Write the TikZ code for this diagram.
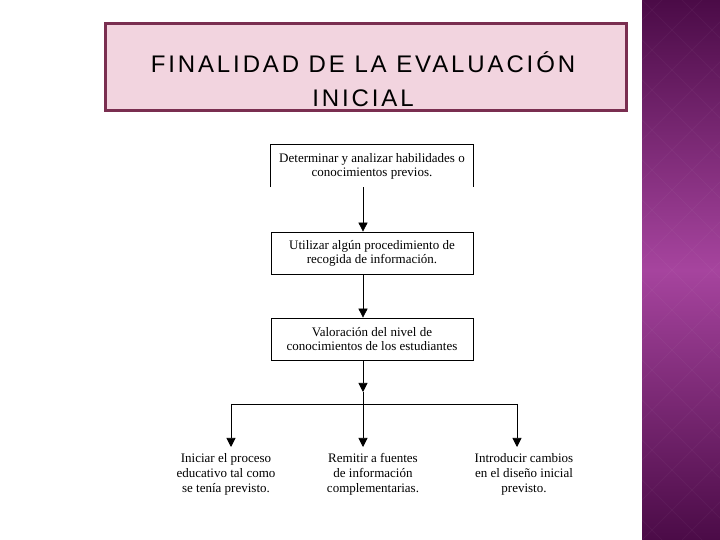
\documentclass[tikz,border=0pt]{standalone}
\usepackage{fontspec}
\setmainfont{Liberation Serif}
\newfontfamily\titlefont[LetterSpace=12]{Liberation Sans}
\usetikzlibrary{positioning,arrows.meta,calc}

\definecolor{titlefill}{HTML}{F2D4DF}
\definecolor{titleline}{HTML}{7A2E50}
\definecolor{bandtop}{HTML}{4B0B47}
\definecolor{bandmid}{HTML}{A6449E}

\tikzset{
    stepbox/.style={minimum width=202pt, minimum height=42pt, inner sep=2pt,
        align=center, font=\fontsize{13}{14}\selectfont},
    result/.style={anchor=north, align=center, inner sep=0pt,
        font=\fontsize{13}{15}\selectfont},
    flow/.style={-{Triangle[length=9pt,width=9pt]}, line width=0.7pt},
}

\begin{document}
\begin{tikzpicture}[x=1pt,y=1pt]
    \useasboundingbox (0,0) rectangle (720,540);
    \fill[white] (0,0) rectangle (720,540);
    % purple band on the right
    \shade[top color=bandtop, bottom color=bandtop, middle color=bandmid]
        (642,0) rectangle (720,540);
    \begin{scope}
        \clip (642,0) rectangle (720,540);
        \foreach \k in {-20,...,20}{
            \draw[white, opacity=0.035, line width=0.8pt] (642+40*\k,0) -- ++(540,540);
            \draw[white, opacity=0.035, line width=0.8pt] (642+40*\k,540) -- ++(540,-540);
        }
    \end{scope}

    % title
    \node[draw=titleline, line width=3pt, fill=titlefill,
        minimum width=521pt, minimum height=87pt] (title) at (366,473) {};
    \node[align=center, inner sep=0pt, font=\titlefont\fontsize{24}{34}\selectfont]
        (titletxt) at ([xshift=-3pt,yshift=-12pt]title.center) {FINALIDAD DE LA EVALUACIÓN\\INICIAL};

    % steps
    \node[stepbox] (det) at (372,374) {Determinar y analizar habilidades o\\conocimientos previos.};
    \draw[line width=0.7pt] (det.south west) -- (det.north west) -- (det.north east) -- (det.south east);
    \node[stepbox, draw, line width=0.7pt] (uti) at (372,287) {Utilizar algún procedimiento de\\recogida de información.};
    \node[stepbox, draw, line width=0.7pt] (val) at (372,201) {Valoración del nivel de\\conocimientos de los estudiantes};

    \coordinate (axis) at (363,0);
    \draw[flow] (det.south -| axis) -- (uti.north -| axis);
    \draw[flow] (uti.south -| axis) -- (val.north -| axis);
    \coordinate (tip) at (363,148);
    \coordinate (split) at (363,136);
    \draw[flow] (val.south -| axis) -- (tip);
    \draw[line width=0.7pt] (tip) -- (split);

    % branches
    \coordinate (lft) at (231,136);
    \coordinate (rgt) at (517,136);
    \coordinate (lftend) at (231,93);
    \coordinate (midend) at (363,93);
    \coordinate (rgtend) at (517,93);
    \draw[line width=0.7pt] (lft) -- (rgt);
    \draw[flow] (lft) -- (lftend);
    \draw[flow] (split) -- (midend);
    \draw[flow] (rgt) -- (rgtend);

    \node[result] (ini) at ([xshift=-5pt,yshift=-6pt]lftend) {Iniciar el proceso\\educativo tal como\\se tenía previsto.};
    \node[result] (rem) at ([xshift=10pt,yshift=-6pt]midend) {Remitir a fuentes\\de información\\complementarias.};
    \node[result] (int) at ([xshift=7pt,yshift=-6pt]rgtend) {Introducir cambios\\en el diseño inicial\\previsto.};
\end{tikzpicture}
\end{document}
